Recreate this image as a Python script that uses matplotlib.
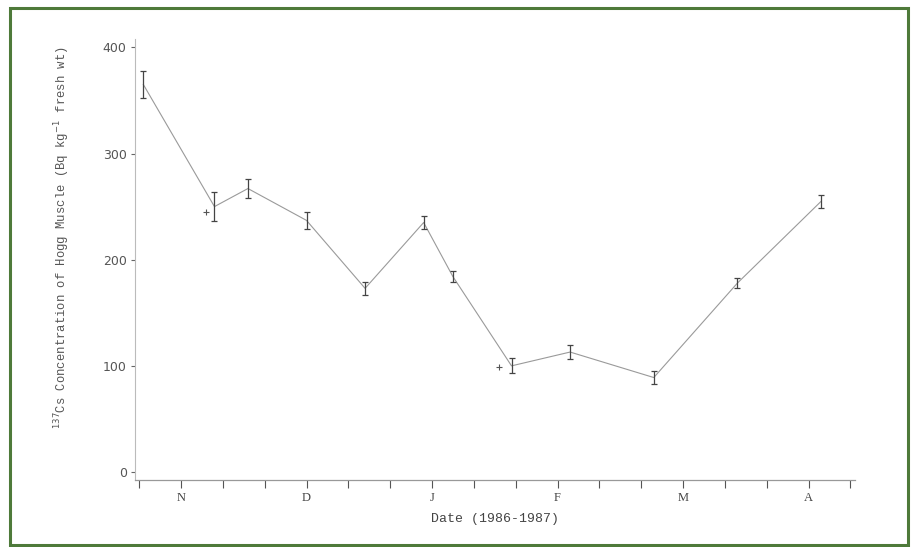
import matplotlib.pyplot as plt
from matplotlib.patches import Rectangle

# days from first tick (ticks every 10 days, months labelled every 3 ticks)
days = [1, 18, 26, 40, 54, 68, 75, 89, 103, 123, 143, 163]
cs137 = [365, 250, 267, 237, 173, 235, 184, 100, 113, 89, 178, 255]
err = [13, 14, 9, 8, 6, 6, 5, 7, 7, 6, 5, 6]

# single extra measurements drawn as small crosses
extra_days = [16, 86]
extra_vals = [245, 99]

tick_days = list(range(0, 180, 10))
month_days = [10, 40, 70, 100, 130, 160]
month_labels = ["N", "D", "J", "F", "M", "A"]

fig = plt.figure(figsize=(9.15, 5.47), dpi=100)
ax = fig.add_axes([0.1475, 0.1225, 0.7865, 0.8065])

ax.plot(days, cs137, color="#9a9a9a", lw=0.8)
ax.errorbar(days, cs137, yerr=err, fmt="none", ecolor="#444444",
            elinewidth=0.9, capsize=2.5, capthick=0.9)
ax.plot(extra_days, extra_vals, "+", color="#555555", ms=4, mew=0.8)

ax.set_xlim(-1, 171)
ax.set_ylim(-7.5, 408)

for s in ["top", "right"]:
    ax.spines[s].set_visible(False)
ax.spines["left"].set_color("#bbbbbb")
ax.spines["left"].set_linestyle((0, (2, 1)))
ax.spines["left"].set_linewidth(0.8)
ax.spines["bottom"].set_color("#999999")
ax.spines["bottom"].set_linewidth(0.9)

ax.set_yticks([0, 100, 200, 300, 400])
ax.tick_params(axis="y", length=3, width=0.8, color="#666666",
               labelsize=9, labelcolor="#555555", pad=3)
ax.set_xticks(tick_days)
ax.set_xticklabels(["" for _ in tick_days])
ax.tick_params(axis="x", length=6, width=0.8, color="#555555", direction="out")

for d, lab in zip(month_days, month_labels):
    ax.text(d, -0.028, lab, transform=ax.get_xaxis_transform(), ha="center",
            va="top", family="Liberation Serif", fontsize=9, color="#444444")

ax.set_xlabel("Date (1986-1987)", family="Liberation Mono", fontsize=9.5,
              color="#444444", labelpad=14)
ax.set_ylabel(r"$^{137}$Cs Concentration of Hogg Muscle (Bq kg$^{-1}$ fresh wt)",
              family="Liberation Mono", fontsize=8.8, color="#555555")
ax.yaxis.set_label_coords(-0.088, 0.55)

fig.patches.append(Rectangle((10 / 915, 2 / 547), 898 / 915, 537 / 547,
                             transform=fig.transFigure, fill=False,
                             edgecolor="#4e7a3a", lw=2.2))

fig.savefig("out.png", dpi=100)
